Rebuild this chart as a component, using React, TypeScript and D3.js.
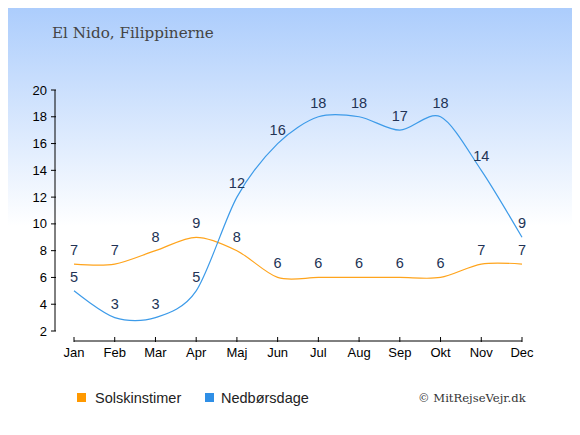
import React, { useEffect, useRef } from "react";
import * as d3 from "d3";

const months = ["Jan", "Feb", "Mar", "Apr", "Maj", "Jun", "Jul", "Aug", "Sep", "Okt", "Nov", "Dec"];
const sunHours = [7, 7, 8, 9, 8, 6, 6, 6, 6, 6, 7, 7];
const rainDays = [5, 3, 3, 5, 12, 16, 18, 18, 17, 18, 14, 9];
const yTicks = [2, 4, 6, 8, 10, 12, 14, 16, 18, 20];

const sunColor = "#ffa41c";
const rainColor = "#3d9be9";

function drawChart(el: SVGSVGElement) {
  const svg = d3.select(el);
  svg.selectAll("*").remove();
  const W = 580, H = 435;

  // background gradient
  const defs = svg.append("defs");
  const grad = defs.append("linearGradient").attr("id", "bg").attr("x1", 0).attr("y1", 0).attr("x2", 0).attr("y2", 1);
  grad.append("stop").attr("offset", "0%").attr("stop-color", "#a9cbfc");
  grad.append("stop").attr("offset", "52%").attr("stop-color", "#ffffff");
  grad.append("stop").attr("offset", "100%").attr("stop-color", "#ffffff");
  svg.append("rect").attr("x", 0).attr("y", 0).attr("width", W).attr("height", H).attr("fill", "url(#bg)");
  svg.append("rect").attr("x", 0.5).attr("y", 0.5).attr("width", W - 1).attr("height", H - 1)
    .attr("fill", "none").attr("stroke", "#b5b5b5").attr("stroke-width", 1.5);

  const x = d3.scalePoint<string>().domain(months).range([74, 522]);
  const y = d3.scaleLinear().domain([2, 20]).range([331, 90]);

  // title
  svg.append("text").attr("x", 52).attr("y", 38).attr("font-family", "'DejaVu Serif', serif")
    .attr("font-size", 15.2).attr("fill", "#444").text("El Nido, Filippinerne");

  // y axis
  const ya = svg.append("g").attr("transform", "translate(55,0)");
  ya.append("line").attr("x1", 0).attr("x2", 0).attr("y1", y(20)).attr("y2", y(2)).attr("stroke", "#000");
  yTicks.forEach((t) => {
    ya.append("line").attr("x1", -4).attr("x2", 1).attr("y1", y(t)).attr("y2", y(t)).attr("stroke", "#000");
    ya.append("text").attr("x", -8).attr("y", y(t)).attr("dy", "0.35em").attr("text-anchor", "end")
      .attr("font-family", "'Liberation Sans', Arial, sans-serif").attr("font-size", 13).attr("fill", "#000")
      .text(t);
  });

  // x axis
  const xa = svg.append("g").attr("transform", "translate(0,341)");
  xa.append("line").attr("x1", x("Jan")!).attr("x2", x("Dec")!).attr("y1", 0).attr("y2", 0).attr("stroke", "#000");
  months.forEach((m) => {
    xa.append("line").attr("x1", x(m)!).attr("x2", x(m)!).attr("y1", -4).attr("y2", 1).attr("stroke", "#000");
    xa.append("text").attr("x", x(m)!).attr("y", 16).attr("text-anchor", "middle")
      .attr("font-family", "'Liberation Sans', Arial, sans-serif").attr("font-size", 13).attr("fill", "#000")
      .text(m);
  });

  const line = d3.line<number>()
    .x((_, i) => x(months[i])!)
    .y((d) => y(d))
    .curve(d3.curveCardinal.tension(0.1));

  const series = [
    { values: sunHours, color: sunColor },
    { values: rainDays, color: rainColor },
  ];
  series.forEach((s) => {
    svg.append("path").attr("d", line(s.values)).attr("fill", "none").attr("stroke", s.color).attr("stroke-width", 1.2);
  });
  series.forEach((s) => {
    svg.append("g").selectAll("text").data(s.values).join("text")
      .attr("x", (_, i) => x(months[i])!)
      .attr("y", (d) => y(d) - 9)
      .attr("text-anchor", "middle")
      .attr("font-family", "'Liberation Sans', Arial, sans-serif")
      .attr("font-size", 14.5)
      .attr("fill", "#223355")
      .text((d) => d);
  });

  // legend
  const lg = svg.append("g").attr("font-family", "'Liberation Sans', Arial, sans-serif").attr("font-size", 14.5);
  lg.append("rect").attr("x", 77).attr("y", 393).attr("width", 9).attr("height", 9).attr("fill", "#ff9900");
  lg.append("text").attr("x", 95).attr("y", 403).attr("fill", "#222").text("Solskinstimer");
  lg.append("rect").attr("x", 205).attr("y", 393).attr("width", 9).attr("height", 9).attr("fill", "#2f8fe6");
  lg.append("text").attr("x", 221).attr("y", 403).attr("fill", "#222").text("Nedbørsdage");

  svg.append("text").attr("x", 418).attr("y", 402).attr("font-family", "'DejaVu Serif', serif")
    .attr("font-size", 11.6).attr("fill", "#333").text("© MitRejseVejr.dk");
}

function Chart() {
  const ref = useRef<SVGSVGElement>(null);
  useEffect(() => {
    if (ref.current) drawChart(ref.current);
  }, []);
  return <svg ref={ref} width={580} height={435} style={{ display: "block" }} />;
}

export default function App() {
  return (
    <div style={{ margin: -8 }}>
      <Chart />
    </div>
  );
}
